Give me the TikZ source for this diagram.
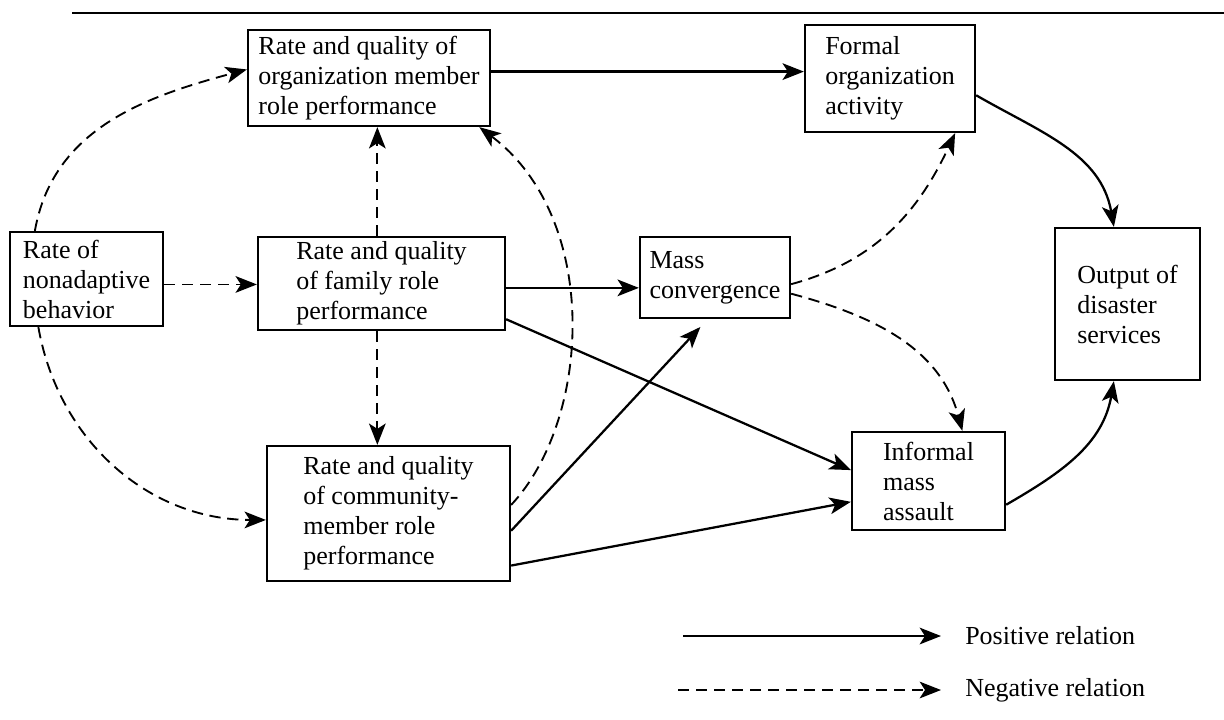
\documentclass[tikz,border=0pt]{standalone}
\usepackage{fontspec}
\setmainfont{Liberation Serif}
\usetikzlibrary{arrows.meta,calc}
\begin{document}
\begin{tikzpicture}[x=0.75pt,y=-0.75pt,
  box/.style={draw,line width=1.7pt,align=left,inner sep=0pt,font=\fontsize{19.5}{22.5}\selectfont},
  tipstyle/.style={-{Stealth[length=16pt,width=12.5pt,inset=4pt]}},
  posrel/.style={tipstyle,line width=1.7pt},
  negrel/.style={tipstyle,line width=1.4pt,dash pattern=on 8.5pt off 5pt},
  lbl/.style={anchor=west,inner sep=0pt,font=\fontsize{19.5}{22.5}\selectfont}]
\useasboundingbox (0,0) rectangle (1224,719);

% top rule
\coordinate (tl) at (72,13);
\coordinate (tr) at (1224,13);
\draw[line width=1.3pt] (tl) -- (tr);

% boxes
\node[box,minimum width=181.5pt,minimum height=72pt] (org) at (369,78) {Rate and quality of\\organization member\\role performance};
\node[box,minimum width=127.5pt,minimum height=80.25pt] (formal) at (890,78.5) {Formal\\organization\\activity};
\node[box,minimum width=114.75pt,minimum height=70.5pt] (nonad) at (86.5,279) {Rate of\\nonadaptive\\behavior};
\node[box,minimum width=185.25pt,minimum height=69.75pt] (family) at (381.5,283.5) {Rate and quality\\of family role\\performance};
\node[box,minimum width=112.5pt,minimum height=60.75pt] (mass) at (715,277.5) {Mass\\convergence};
\node[box,minimum width=108.75pt,minimum height=114pt] (output) at (1127.5,304) {Output of\\disaster\\services};
\node[box,minimum width=114.75pt,minimum height=73.5pt] (informal) at (928.5,481) {Informal\\mass\\assault};
\node[box,minimum width=182.25pt,minimum height=101.25pt] (community) at (388.5,513.5) {Rate and quality\\of community-\\member role\\performance};

% connectors
\draw[posrel] (org.3) -- (org.3 -| formal.west);
\draw[posrel] (formal.-11) to[out=-30,in=100] (output.100);
\draw[posrel] (informal.-17) to[out=30,in=-100] (output.-100);
\draw[negrel] (nonad.137) to[out=80,in=195] (org.176);
\draw[negrel] (nonad.-4) -- (nonad.-4 -| family.west);
\draw[negrel] (nonad.-135) to[out=-80,in=180] (community.183);
\draw[negrel] (family.95) -- (family.95 |- org.south);
\draw[negrel] (family.-95) -- (family.-95 |- community.north);
\draw[negrel] (community.4) .. controls +(80,-85) and +(122,92) .. (org.-24);
\draw[posrel] (family.-2) -- (family.-2 -| mass.west);
\draw[posrel] (family.-16) -- (informal.172);
\draw[posrel,shorten >=8pt] (community.-8) -- (mass.-100);
\draw[posrel] (community.-23) -- (informal.-165);
\draw[negrel] (mass.-5) to[out=15,in=-115] (formal.-40);
\draw[negrel] (mass.-12) to[out=-15,in=105] (informal.56);

% legend
\node[lbl] (ptext) at (965,636) {Positive relation};
\node[lbl] (ntext) at (965,690) {Negative relation};
\coordinate (pstart) at (683,636);
\coordinate (nstart) at (678,690);
\draw[posrel,shorten >=18pt] (pstart) -- (ptext.west);
\draw[negrel,shorten >=18pt] (nstart) -- (ntext.west);
\end{tikzpicture}
\end{document}
